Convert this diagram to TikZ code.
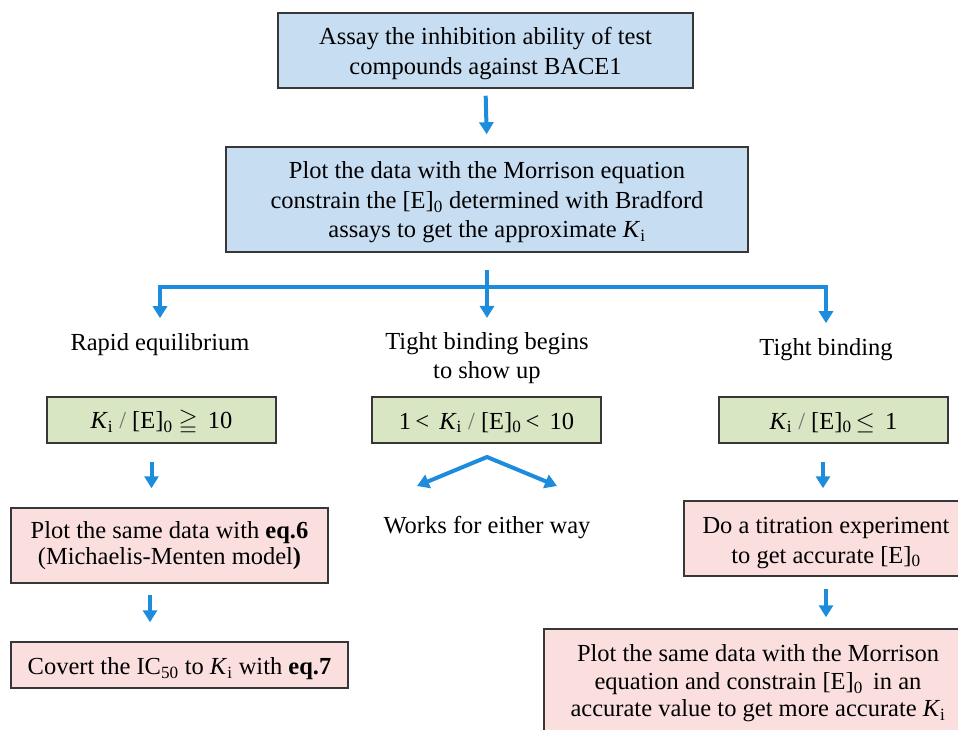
\documentclass[tikz,border=0pt]{standalone}
\usepackage{amssymb}
\usepackage{fontspec}
\setmainfont{Liberation Serif}
\usetikzlibrary{arrows.meta}
\definecolor{boxblue}{RGB}{199,221,242}
\definecolor{boxgreen}{RGB}{216,230,196}
\definecolor{boxpink}{RGB}{251,223,223}
\definecolor{bordercol}{RGB}{55,55,55}
\definecolor{arrblue}{RGB}{30,140,220}
\newcommand{\fsz}{\fontsize{24.5}{29.5}\selectfont}
\newcommand{\Ki}{\textit{K}\textsubscript{i}}
\newcommand{\Ez}{[E]\textsubscript{0}}
\newcommand{\myslash}{{\color{black!55}/}}
\tikzset{
  box/.style={draw=bordercol, line width=1.5pt, inner sep=0pt},
  bluebox/.style={box, fill=boxblue},
  greenbox/.style={box, fill=boxgreen, minimum width=229pt, minimum height=46pt},
  pinkbox/.style={box, fill=boxpink},
  txt/.style={align=center, inner sep=0pt, font=\fsz},
  arr/.style={draw=arrblue, line width=4pt, -{Triangle[width=14pt,length=12pt]}},
  ln/.style={draw=arrblue, line width=4pt},
}
\begin{document}
\begin{tikzpicture}[x=1pt,y=-1pt]
\useasboundingbox (0,0) rectangle (958,730);
\clip (0,0) rectangle (958,730);
\fill[white] (0,0) rectangle (958,730);

% boxes
\node[bluebox, minimum width=415pt, minimum height=75pt] (b1) at (485.5,50.5) {};
\node[bluebox, minimum width=522pt, minimum height=105pt] (b2) at (487,199.5) {};
\node[greenbox] (g1) at (161.5,420) {};
\node[greenbox] (g2) at (486.5,420) {};
\node[greenbox] (g3) at (833.5,420) {};
\node[pinkbox, minimum width=317pt, minimum height=75pt] (p1) at (169.5,545.5) {};
\node[pinkbox, minimum width=337pt, minimum height=46pt] (p2) at (179.5,665) {};
\node[pinkbox, minimum width=284pt, minimum height=75pt] (p3) at (826,538.5) {};
\node[pinkbox, minimum width=428pt, minimum height=109pt] (p4) at (758,683.5) {};

% texts
\node[txt] (tb1) at ([yshift=-3pt]b1.center) {Assay the inhibition ability of test\\compounds against BACE1};
\node[txt] (tb2) at ([yshift=-3pt]b2.center) {Plot the data with the Morrison equation\\constrain the \Ez{} determined with Bradford\\assays to get the approximate \Ki};
\node[txt] (tg1) at ([yshift=-2.5pt]g1.center) {\Ki{} \myslash{} \Ez{} $\geqq$\, 10};
\node[txt] (tg2) at ([yshift=-2.5pt]g2.center) {1\,<\, \Ki{} \myslash{} \Ez{}\,<\, 10};
\node[txt] (tg3) at ([yshift=-2.5pt]g3.center) {\Ki{} \myslash{} \Ez{}\,$\leq$\, 1};
\node[txt, font=\fontsize{24.5}{26}\selectfont] (tp1) at (p1.center) {Plot the same data with \textbf{eq.6}\\(Michaelis-Menten model\textbf{)}};
\node[txt] (tp2) at ([yshift=-4pt]p2.center) {Covert the IC\textsubscript{50} to \Ki{} with \textbf{eq.7}};
\node[txt] (tp3) at ([yshift=-4.5pt]p3.center) {Do a titration experiment\\to get accurate \Ez};
\node[txt, font=\fontsize{24.5}{27.5}\selectfont] (tp4) at ([yshift=0pt]p4.center) {Plot the same data with the Morrison\\equation and constrain \Ez{}\, in an\\accurate value to get more accurate \Ki};

\node[txt] (l1) at (160,344.5) {Rapid equilibrium};
\node[txt] (l2) at (487,358) {Tight binding begins\\to show up};
\node[txt] (l3) at (826,349.5) {Tight binding};
\node[txt] (w) at (487,528) {Works for either way};

% connectors
\draw[arr, shorten <=7pt, shorten >=12pt] (b1.south) -- (b2.north);
\coordinate (j) at (487,287);
\draw[ln, shorten <=17pt] (b2.south) -- (j);
\draw[arr, shorten >=15pt] (j) -| (l1.north);
\draw[arr, shorten >=15pt] (j) -| (l3.north);
\draw[arr, shorten >=14pt] (j) -- (l2.north);

\draw[arr, shorten <=18pt, shorten >=19pt] ([xshift=-10pt]g1.south) -- ([xshift=-10pt]g1.south |- p1.north);
\draw[arr, shorten <=18pt, shorten >=12pt] ([xshift=-10.5pt]g3.south) -- ([xshift=-10.5pt]g3.south |- p3.north);
\draw[arr, shorten <=11pt, shorten >=19pt] ([xshift=-19.5pt]p1.south) -- ([xshift=-19.5pt]p1.south |- p2.north);
\draw[arr, shorten <=12pt, shorten >=11pt] (p3.south) -- (p3.south |- p4.north);

\coordinate (apex) at (487,457);
\coordinate (wl) at (417,486);
\coordinate (wr) at (557,486);
\draw[arr, line join=miter, {Triangle[width=14pt,length=12pt]}-{Triangle[width=14pt,length=12pt]}] (wl) -- (apex) -- (wr);
\end{tikzpicture}
\end{document}
